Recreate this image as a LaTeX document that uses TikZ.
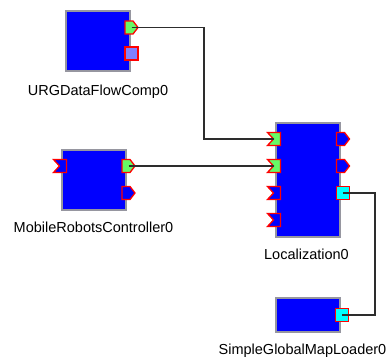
\documentclass[tikz,border=0pt]{standalone}
\usepackage{fontspec}
\setmainfont{Liberation Sans}
\definecolor{blockfill}{RGB}{0,0,255}
\definecolor{blockedge}{RGB}{150,150,160}
\definecolor{portedge}{RGB}{255,0,0}
\definecolor{portgreen}{RGB}{102,250,102}
\definecolor{portlav}{RGB}{128,128,255}
\definecolor{portcyan}{RGB}{0,255,255}
\definecolor{wire}{RGB}{45,45,45}
\tikzset{
  block/.style={draw=blockedge, fill=blockfill, line width=1.3pt, minimum width=64pt, inner sep=0pt},
  portnode/.style={minimum width=13pt, minimum height=13pt, inner sep=0pt, outer sep=0pt},
  portedge/.style={draw=portedge, line width=1.3pt, line join=miter},
  wireline/.style={draw=wire, line width=1.4pt},
  lbl/.style={anchor=base, inner sep=0pt, font=\fontsize{14.5}{17}\selectfont}
}
% out port: pentagon pointing right
\newcommand\outshape[2]{\path[portedge, fill=#2] (#1.north west) -- ([xshift=-5pt]#1.north east) -- (#1.east) -- ([xshift=-5pt]#1.south east) -- (#1.south west) -- cycle;}
% in port: rectangle notched on the left
\newcommand\inshape[2]{\path[portedge, fill=#2] (#1.north west) -- (#1.north east) -- (#1.south east) -- (#1.south west) -- ([xshift=6pt]#1.west) -- cycle;}
% service port: square
\newcommand\sqshape[2]{\path[portedge, fill=#2] (#1.north west) rectangle (#1.south east);}
\begin{document}
\begin{tikzpicture}[x=1pt, y=-1pt]
\useasboundingbox (0,0) rectangle (390,358);
% blocks
\node[block, minimum height=60pt] (urg) at (98,41) {};
\node[block, minimum height=60pt] (mob) at (94,180) {};
\node[block, minimum height=114pt] (loc) at (308,180) {};
\node[block, minimum height=34pt] (sim) at (308,315) {};
% labels
\node[lbl] (urgl) at (98,96) {URGDataFlowComp0};
\node[lbl] (mobl) at (93.5,232.5) {MobileRobotsController0};
\node[lbl] (locl) at (306.5,259) {Localization0};
\node[lbl] (siml) at (302.5,354) {SimpleGlobalMapLoader0};
% ports
\node[portnode] (urgo1) at (131.5,27.5) {};
\node[portnode] (urgo2) at (131.5,53.5) {};
\node[portnode] (mobi1) at (60,166) {};
\node[portnode] (mobo1) at (128.5,166) {};
\node[portnode] (mobo2) at (128.5,193) {};
\node[portnode] (loci1) at (274,139) {};
\node[portnode] (loci2) at (274,166) {};
\node[portnode] (loci3) at (274,193) {};
\node[portnode] (loci4) at (274,220) {};
\node[portnode] (loco1) at (343,139) {};
\node[portnode] (loco2) at (343,166) {};
\node[portnode] (loco3) at (343,193) {};
\node[portnode] (simo1) at (342,315) {};
\outshape{urgo1}{portgreen}
\sqshape{urgo2}{portlav}
\inshape{mobi1}{blockfill}
\outshape{mobo1}{portgreen}
\outshape{mobo2}{blockfill}
\inshape{loci1}{portgreen}
\inshape{loci2}{portgreen}
\inshape{loci3}{blockfill}
\inshape{loci4}{blockfill}
\outshape{loco1}{blockfill}
\outshape{loco2}{blockfill}
\sqshape{loco3}{portcyan}
\sqshape{simo1}{portcyan}
% connectors
\coordinate (bend1) at (204,139);
\coordinate (bend2) at (375,315);
\draw[wireline] (urgo1.center) -| (bend1) -- ([xshift=6pt]loci1.west);
\draw[wireline] (mobo1.center) -- ([xshift=6pt]loci2.west);
\draw[wireline] (loco3.center) -| (bend2) -- (simo1.center);
\end{tikzpicture}
\end{document}
